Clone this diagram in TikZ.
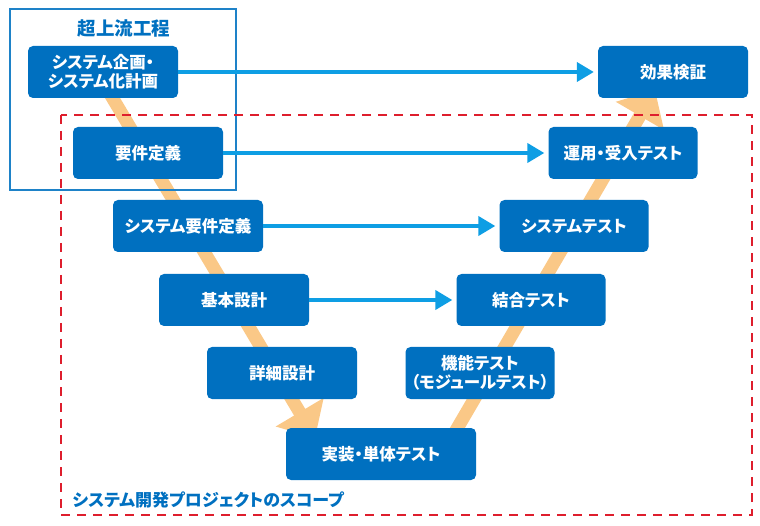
\documentclass[tikz,border=0pt]{standalone}
\usepackage{fontspec}
\setmainfont{Noto Sans CJK JP}[RawFeature=+palt]
\usepackage{xcolor}
\usepackage{tikz}
\usetikzlibrary{arrows.meta,positioning}
\definecolor{boxblue}{RGB}{0,112,192}
\definecolor{lineblue}{RGB}{14,158,228}
\definecolor{frameblue}{RGB}{30,130,200}
\definecolor{peach}{RGB}{250,200,135}
\definecolor{dkred}{RGB}{222,30,45}

\begin{document}
\begin{tikzpicture}[x=1pt,y=-1pt,
          phase/.style={fill=boxblue,rounded corners=5pt,text=white,
                        minimum width=150pt,minimum height=52pt,
                        font=\fontsize{16.5}{19}\selectfont\bfseries,align=center,inner sep=2pt},
          flow/.style={draw=lineblue,line width=4pt,
                       -{Triangle[width=19pt,length=17pt]},shorten >=4pt},
          vband/.style={draw=peach,line width=13pt,
                        -{Triangle[width=54pt,length=30pt]}}]
        \useasboundingbox (0,0) rectangle (760,526);
        % band ends
        \coordinate (vl0) at (103,82);
        \coordinate (vl1) at (315,438);
        \coordinate (vr0) at (448,444);
        \coordinate (vr1) at (655,90);
        \draw[vband] (vl0) -- (vl1);
        \draw[vband] (vr0) -- (vr1);
        % frames
        \draw[frameblue,line width=2pt] (10,9) rectangle (236,190);
        \node[text=boxblue,font=\fontsize{18.5}{20}\selectfont\bfseries] (upstream) at (124,28) {超上流工程};
        \draw[dkred,line width=2pt,dash pattern=on 9pt off 7pt] (61,115) rectangle (752,515);
        \node[text=boxblue,font=\fontsize{17}{18}\selectfont\bfseries,anchor=west] (scope) at (69,500)
          {システム開発プロジェクトのスコープ};
        % left side
        \node[phase] (plan)   at (103,72)  {システム企画・\\システム化計画};
        \node[phase] (req)    at (148,153) {要件定義};
        \node[phase] (sysreq) at (188,226) {システム要件定義};
        \node[phase] (basic)  at (234,300) {基本設計};
        \node[phase] (detail) at (282,373) {詳細設計};
        % bottom
        \node[phase,minimum width=190pt] (impl) at (381,454) {実装・単体テスト};
        % right side
        \node[phase,minimum width=149pt] (func)   at (480,373) {機能テスト\\（モジュールテスト）};
        \node[phase,minimum width=149pt] (integ)  at (531,300) {結合テスト};
        \node[phase,minimum width=149pt] (systest) at (574,226) {システムテスト};
        \node[phase,minimum width=149pt] (accept) at (623,153) {運用・受入テスト};
        \node[phase] (effect) at (673,72)  {効果検証};
        % correspondences
        \draw[flow] (plan.east)   -- (effect.west);
        \draw[flow] (req.east)    -- (accept.west);
        \draw[flow] (sysreq.east) -- (systest.west);
        \draw[flow] (basic.east)  -- (integ.west);
      \end{tikzpicture}
\end{document}
